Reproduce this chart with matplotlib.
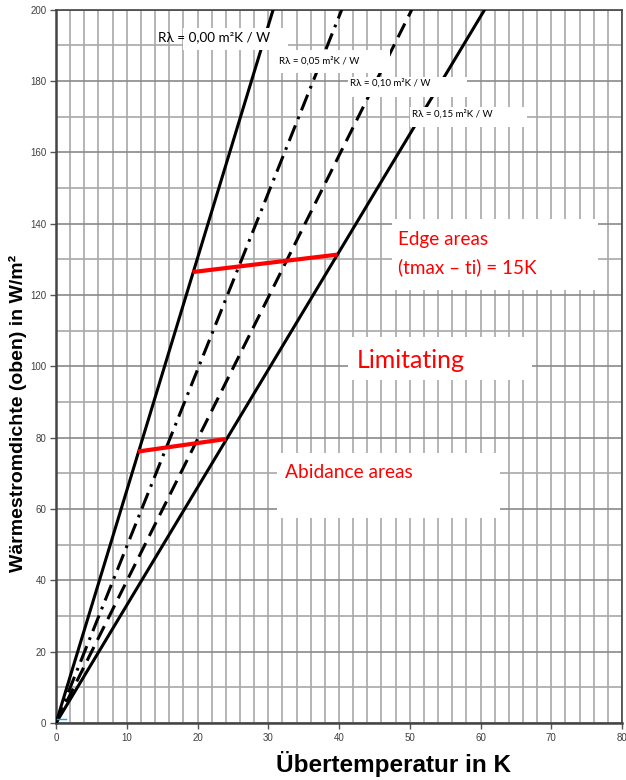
import numpy as np
import matplotlib
matplotlib.use("Agg")
import matplotlib.pyplot as plt
from matplotlib.patches import Rectangle

# lines through the origin, end points read at the top of the chart
r_labels = ["Rλ = 0,00 m²K / W", "Rλ = 0,05 m²K / W",
            "Rλ = 0,10 m²K / W", "Rλ = 0,15 m²K / W"]
line_x = [[0, 30.7], [0, 40.4], [0, 50.3], [0, 60.6]]
line_y = [[0, 200], [0, 200], [0, 200], [0, 200]]

# red limit lines
edge_x = [19.3, 39.8]
edge_y = [126.4, 131.3]
abid_x = [11.6, 24.0]
abid_y = [76.1, 79.6]

cyan_x = [0.2, 1.4]
cyan_y = [1.1, 1.1]

xticks = [0, 10, 20, 30, 40, 50, 60, 70, 80]
yticks = [0, 20, 40, 60, 80, 100, 120, 140, 160, 180, 200]

box_font = ["Lato", "DejaVu Sans"]

fig = plt.figure(figsize=(6.26, 7.8), dpi=100)
ax = fig.add_axes([56/626, 1-723/780, 566/626, 713.5/780])
ax.set_xlim(0, 80)
ax.set_ylim(0, 200)

ax.set_xticks(xticks)
ax.set_yticks(yticks)
ax.set_xticks(np.arange(0, 81, 2), minor=True)
ax.set_yticks(np.arange(0, 201, 10), minor=True)
ax.grid(True, axis="x", which="both", color="#a8a8a8", lw=1.2, zorder=0)
ax.grid(True, axis="y", which="minor", color="#a8a8a8", lw=1.2, zorder=0)
ax.grid(True, axis="y", which="major", color="#8a8a8a", lw=1.2, zorder=0)
ax.set_axisbelow(True)
ax.tick_params(which="minor", length=0)
ax.tick_params(which="major", direction="out", length=4, width=1,
               color="#555555", labelsize=7, labelcolor="#404040", pad=3)
for lab in ax.get_xticklabels() + ax.get_yticklabels():
    lab.set_family("Liberation Sans")
for s in ax.spines.values():
    s.set_color("#444444")
    s.set_linewidth(1.2)
ax.spines["left"].set_linewidth(1.8)
ax.spines["bottom"].set_linewidth(1.8)

styles = [dict(ls="-"), dict(dashes=(5.5, 2.2, 0.9, 2.2)),
          dict(dashes=(5, 2.6)), dict(ls="-")]
for xs, ys, st in zip(line_x, line_y, styles):
    ax.plot(xs, ys, color="black", lw=2.2, zorder=3, **st)

ax.plot(edge_x, edge_y, color="#ff0000", lw=3, solid_capstyle="butt", zorder=4)
ax.plot(abid_x, abid_y, color="#ff0000", lw=3, solid_capstyle="butt", zorder=4)
ax.plot(cyan_x, cyan_y, color="#00b0f0", lw=1, zorder=4)


def px(x, y):
    return (x - 56) / 7.075, (723 - y) / 3.5675


def box(x0, y0, x1, y1):
    a = px(x0, y1)
    b = px(x1, y0)
    ax.add_patch(Rectangle(a, b[0]-a[0], b[1]-a[1], facecolor="white",
                           edgecolor="none", zorder=5))


def label(x, y, s, size, color="black"):
    dx, dy = px(x, y)
    ax.text(dx, dy, s, fontsize=size, color=color, family=box_font,
            ha="left", va="center", zorder=6)


# R labels
box(183, 28, 288, 50)
label(158, 37, r_labels[0], 9.7)
box(277, 50, 390, 73)
label(279, 61, r_labels[1], 7)
box(348, 77, 467, 97)
label(350, 83, r_labels[2], 7)
box(410, 107, 527, 127)
label(412, 114, r_labels[3], 7)

# red annotations
box(392, 219, 598, 290)
label(398, 240, "Edge areas", 13.6, "#ff0000")
label(398, 267, "(tmax – ti) = 15K", 13.6, "#ff0000")
box(348, 337, 532, 380)
label(357, 360, "Limitating", 18, "#ff0000")
box(277, 453, 500, 518)
label(285, 473, "Abidance areas", 13.8, "#ff0000")

fig.text(393/626, 1-764/780, "Übertemperatur in K", family="Liberation Sans",
         fontweight="bold", fontsize=17.5, ha="center", va="center")
fig.text(18/626, 1-413/780, "Wärmestromdichte (oben) in W/m²",
         family="Liberation Sans", fontweight="bold", fontsize=14,
         rotation=90, ha="center", va="center")

fig.savefig("out.png", dpi=100)
